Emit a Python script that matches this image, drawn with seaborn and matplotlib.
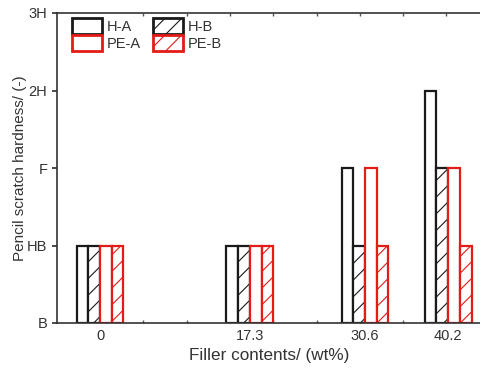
import numpy as np
import pandas as pd
import matplotlib
matplotlib.use("Agg")
import matplotlib.pyplot as plt
import matplotlib.patches as mpatches
from matplotlib.ticker import MultipleLocator
import seaborn as sns

# ---- data ----
filler = [0, 17.3, 30.6, 40.2]
grade_labels = ["B", "HB", "F", "2H", "3H"]
h_a = [1, 1, 2, 3]
h_b = [1, 1, 1, 2]
pe_a = [1, 1, 2, 2]
pe_b = [1, 1, 1, 1]
series_names = ["H-A", "H-B", "PE-A", "PE-B"]

rows = []
for name, vals in zip(series_names, [h_a, h_b, pe_a, pe_b]):
    for x, v in zip(filler, vals):
        rows.append({"filler": x, "hardness": v, "sample": name})
df = pd.DataFrame(rows)

sns.set_theme(style="ticks")
plt.rcParams["font.family"] = ["Liberation Sans", "DejaVu Sans"]
plt.rcParams["hatch.linewidth"] = 0.8

edge_colors = {"H-A": "#1a1a1a", "H-B": "#1a1a1a", "PE-A": "#e41b17", "PE-B": "#e41b17"}
hatches = {"H-A": "", "H-B": "//", "PE-A": "", "PE-B": "//"}

fig = plt.figure(figsize=(4.81, 3.69), dpi=100)
ax = fig.add_axes([57 / 481, 1 - 323 / 369, 1 - 57 / 481 + 0.002, (323 - 13) / 369])

sns.barplot(data=df, x="filler", y="hardness", hue="sample", hue_order=series_names,
            native_scale=True, width=0.5625, palette=edge_colors, dodge=True,
            errorbar=None, legend=False, ax=ax)

for name, cont in zip(series_names, ax.containers):
    for p in cont.patches:
        p.set_facecolor("white")
        p.set_edgecolor(edge_colors[name])
        p.set_linewidth(1.6)
        p.set_hatch(hatches[name])

ax.set_xlim(-4.97, 44.1)
ax.set_ylim(0, 4)
ax.set_yticks(range(len(grade_labels)))
ax.set_yticklabels(grade_labels)
ax.set_xticks(filler)
ax.set_xticklabels([f"{v:g}" for v in filler])
ax.xaxis.set_minor_locator(MultipleLocator(5))
ax.tick_params(axis="x", which="major", length=0, pad=4, labelsize=10.5)
ax.tick_params(axis="x", which="minor", length=2.5, direction="in", top=True, bottom=True, color="#555555")
ax.tick_params(axis="y", which="major", length=3.5, direction="out", labelsize=10.5)
ax.tick_params(axis="both", labelcolor="#333333", color="#333333")

for s in ["left", "bottom", "top"]:
    ax.spines[s].set_color("#333333")
    ax.spines[s].set_linewidth(1.2)
ax.spines["right"].set_visible(False)

ax.set_xlabel("Filler contents/ (wt%)", fontsize=12.3, color="#333333", labelpad=4)
ax.set_ylabel("Pencil scratch hardness/ (-)", fontsize=11, color="#333333", labelpad=0)

handles = []
order = ["H-A", "PE-A", "H-B", "PE-B"]
for name in order:
    handles.append(mpatches.Patch(facecolor="white", edgecolor=edge_colors[name],
                                  hatch=hatches[name], linewidth=2.0, label=name))
ax.legend(handles=handles, ncol=2, loc="upper left", bbox_to_anchor=(0.021, 1.002),
          frameon=False, fontsize=10.5, handlelength=2.1, handleheight=1.3,
          handletextpad=0.3, columnspacing=0.8, labelspacing=0.05,
          borderaxespad=0.0, labelcolor="#333333")

fig.savefig("out.png", dpi=100)
